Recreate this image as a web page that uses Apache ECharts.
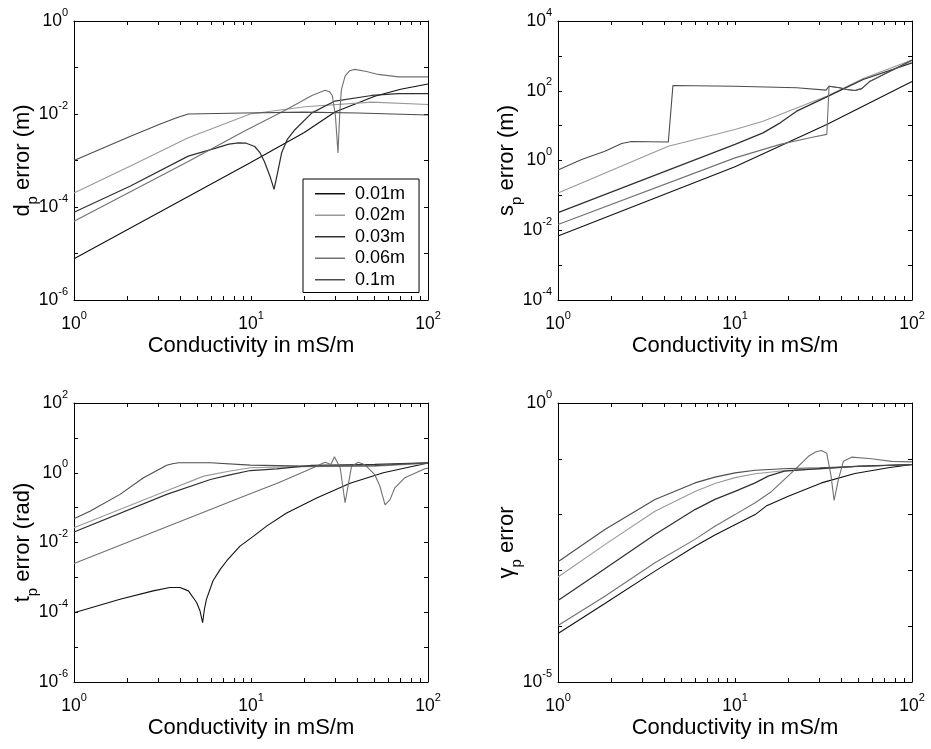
<!DOCTYPE html>
<html><head><meta charset="utf-8">
<script src="https://cdn.jsdelivr.net/npm/echarts@6/dist/echarts.min.js"></script>
<style>html,body{margin:0;padding:0;background:#fff;} #c{width:931px;height:749px;}</style>
</head><body><div id="c"></div>
<script>
// ---------- categories / ticks ----------
const seriesNames = ['0.01m', '0.02m', '0.03m', '0.06m', '0.1m'];
const xTickValues = [1,2,3,4,5,6,7,8,9,10,20,30,40,50,60,70,80,90,100];
const xLabelValues = [1, 10, 100];
const yTicksD = [1e-6,1e-5,1e-4,1e-3,1e-2,1e-1,1];
const yLabelsD = [1e-6,1e-4,1e-2,1];
const yTicksS = [1e-4,1e-3,1e-2,1e-1,1,1e1,1e2,1e3,1e4];
const yLabelsS = [1e-4,1e-2,1,1e2,1e4];
const yTicksT = [1e-6,1e-5,1e-4,1e-3,1e-2,1e-1,1,1e1,1e2];
const yLabelsT = [1e-6,1e-4,1e-2,1,1e2];
const yTicksG = [1e-5,1e-4,1e-3,1e-2,1e-1,1];
const yLabelsG = [1e-5,1];

// ---------- d_p error (m) ----------
const d_001 = [[1,7.7e-6],[3,7.5e-5],[9.9,8.9e-4],[20,4e-3],[29.8,1.1e-2],[50,2.4e-2],[70,3.4e-2],[100,4.4e-2]];
const d_002 = [[1,2e-4],[2.07,7.5e-4],[4.42,3.1e-3],[9.9,1e-2],[20.2,1.43e-2],[48,1.8e-2],[100,1.6e-2]];
const d_003 = [[1,7.7e-5],[2.07,2.8e-4],[4.42,1.24e-3],[6.4,1.87e-3],[7.5,2.25e-3],[8.5,2.4e-3],[9.4,2.35e-3],[10.5,2e-3],[11.2,1.5e-3],[11.9,9.5e-4],[12.8,4.6e-4],[13.5,2.4e-4],[14,4.6e-4],[14.9,1.46e-3],[16,2.8e-3],[17.7,4.6e-3],[22.1,1.06e-2],[29.8,1.9e-2],[48,2.5e-2],[68,2.75e-2],[100,2.75e-2]];
const d_006 = [[1,4.95e-5],[2.07,2.1e-4],[4.42,9.5e-4],[9.2,4.3e-3],[15.6,1.2e-2],[22.1,2.5e-2],[26.2,3.25e-2],[27.8,3e-2],[28.8,2.5e-2],[30,9e-3],[31,1.46e-3],[31.8,1.2e-2],[32.4,3.3e-2],[34,6.5e-2],[36,8.5e-2],[38.6,9.1e-2],[45,8.2e-2],[52.2,7.1e-2],[68,6.3e-2],[100,6.3e-2]];
const d_010 = [[1,1e-3],[2.07,3.3e-3],[3,5.9e-3],[3.8,8.3e-3],[4.42,1e-2],[9.2,1.05e-2],[20,1.1e-2],[40,1.05e-2],[100,9.5e-3]];

// ---------- s_p error (m) ----------
const s_001 = [[1,0.0068],[10,0.66],[33,10.8],[100,183]];
const s_002 = [[1,0.117],[4.2,2.57],[10,7.7],[14.4,13.4],[26.5,45],[33,70],[53,225],[100,760]];
const s_003 = [[1,0.032],[10,2.9],[14.4,6.2],[18,12],[22.3,26],[33,67],[53,210],[100,630]];
const s_006 = [[1,0.0146],[10,1.19],[18,2.9],[26.5,4.5],[33,5.6],[34,135],[39,122],[42.7,109],[47.6,102],[52,115],[58,188],[100,750]];
const s_010 = [[1,0.53],[1.36,1.07],[1.84,1.85],[2.29,3.07],[2.6,3.5],[4.2,3.4],[4.46,141],[10,135],[22.3,122],[32.7,104],[34,135],[39,122],[42.7,109],[47.6,102],[52,115],[58,188],[100,750]];

// ---------- t_p error (rad) ----------
const t_001 = [[1,9.7e-5],[1.82,2.35e-4],[2.8,4.1e-4],[3.48,5.1e-4],[3.97,5.1e-4],[4.43,4.1e-4],[4.93,1.9e-4],[5.15,1.1e-4],[5.33,5e-5],[5.45,1.2e-4],[5.6,2.35e-4],[6.1,8e-4],[6.7,1.7e-3],[7.3,3e-3],[8.67,7.9e-3],[10.3,0.015],[12.3,0.03],[15.9,0.07],[23.5,0.19],[36.3,0.5],[55.9,1.0],[100,1.9]];
const t_002 = [[1,0.0265],[3.34,0.305],[5.4,0.8],[7.5,1.11],[9.9,1.39],[14,1.45],[20,1.5],[50,1.55],[100,1.85]];
const t_003 = [[1,0.02],[3.34,0.24],[5.9,0.64],[7.5,0.85],[9.9,1.16],[14,1.3],[22,1.62],[50,1.75],[100,1.93]];
const t_006 = [[1,0.0025],[9.9,0.25],[14.3,0.52],[20.2,1.11],[26.2,2.0],[28.3,1.73],[29.6,2.87],[31.9,1.39],[34,0.138],[37,1.55],[40.4,2.0],[44,1.7],[50,0.89],[53.5,0.41],[57.2,0.12],[61,0.17],[65,0.37],[74,0.72],[96,1.3],[100,1.35]];
const t_010 = [[1,0.048],[1.23,0.079],[1.82,0.24],[2.47,0.72],[3.34,1.65],[3.6,1.82],[3.9,1.93],[5.9,1.93],[9.9,1.65],[20,1.55],[50,1.6],[100,1.93]];

// ---------- gamma_p error ----------
const g_001 = [[1,7.4e-5],[1.84,2.55e-4],[3.53,9.7e-4],[5.94,2.7e-3],[7.7,4.3e-3],[10,6.6e-3],[13,0.01],[15,0.0142],[20,0.0214],[30.8,0.037],[47.6,0.0545],[73.5,0.069],[100,0.079]];
const g_002 = [[1,7.6e-4],[1.84,2.9e-3],[3.53,0.0115],[5.94,0.026],[7.7,0.036],[10,0.046],[13,0.054],[20,0.0625],[30,0.066],[50,0.073],[100,0.079]];
const g_003 = [[1,2.9e-4],[1.84,1.07e-3],[3.53,4.4e-3],[5.94,0.0123],[7.7,0.0187],[10,0.026],[13,0.037],[15.4,0.049],[19,0.06],[24.8,0.064],[50,0.074],[100,0.079]];
const g_006 = [[1,1.03e-4],[1.84,3.45e-4],[3.53,1.37e-3],[5.94,3.6e-3],[7.7,6.2e-3],[10,0.01],[13,0.0163],[16.1,0.026],[21.8,0.064],[26,0.111],[28.5,0.132],[30.8,0.141],[33,0.125],[34.9,0.049],[36.3,0.0179],[38.4,0.0426],[41,0.0906],[45.6,0.107],[59,0.1],[76.7,0.09],[100,0.088]];
const g_010 = [[1,1.43e-3],[1.84,5.4e-3],[3.53,0.0187],[5.94,0.037],[7.7,0.047],[10,0.056],[13,0.0625],[20,0.067],[30,0.069],[70,0.076],[100,0.079]];

// ---------- styles ----------
const FONT = '"Liberation Sans", Arial, Helvetica, sans-serif';
const lineColors = ['#111111', '#999999', '#303030', '#707070', '#4c4c4c'];
const lineWidths = [1.1, 1.1, 1.25, 1.1, 1.1];

const panels = [
  { data: [d_001, d_002, d_003, d_006, d_010], min: 1e-6, max: 1, ticks: yTicksD, labels: yLabelsD,
    name: '{m|d}{s|p}{m| error (m)}', left: 74, top: 21 },
  { data: [s_001, s_002, s_003, s_006, s_010], min: 1e-4, max: 1e4, ticks: yTicksS, labels: yLabelsS,
    name: '{m|s}{s|p}{m| error (m)}', left: 558, top: 21 },
  { data: [t_001, t_002, t_003, t_006, t_010], min: 1e-6, max: 1e2, ticks: yTicksT, labels: yLabelsT,
    name: '{m|t}{s|p}{m| error (rad)}', left: 74, top: 403 },
  { data: [g_001, g_002, g_003, g_006, g_010], min: 1e-5, max: 1, ticks: yTicksG, labels: yLabelsG,
    name: '{m|\u03b3}{s|p}{m| error}', left: 558, top: 403 }
];

function powLabel(v) {
  const e = Math.round(Math.log10(v));
  return '{b|10}{s|' + e + '}';
}
const labelRich = {
  b: { fontSize: 17.5, lineHeight: 28, fontFamily: FONT, color: '#000' },
  s: { fontSize: 11, lineHeight: 14, verticalAlign: 'top', fontFamily: FONT, color: '#000' }
};
const nameRich = {
  m: { fontSize: 22, lineHeight: 24, verticalAlign: 'top', fontFamily: FONT, color: '#000' },
  s: { fontSize: 15, lineHeight: 28, verticalAlign: 'bottom', fontFamily: FONT, color: '#000' }
};
const axisLineStyle = { show: true, onZero: false, lineStyle: { color: '#000', width: 1 } };

const grids = [], xAxes = [], yAxes = [], series = [];
panels.forEach((p, i) => {
  grids.push({ left: p.left, top: p.top, width: 354, height: 279, containLabel: false });
  xAxes.push({
    type: 'log', logBase: 10, gridIndex: i, min: 1, max: 100, position: 'bottom',
    axisLine: axisLineStyle,
    axisTick: { show: true, inside: true, length: 4, customValues: xTickValues, lineStyle: { color: '#000' } },
    axisLabel: { show: true, customValues: xLabelValues, formatter: powLabel, rich: labelRich, margin: 10, color: '#000' },
    splitLine: { show: false }, minorTick: { show: false },
    name: 'Conductivity in mS/m', nameLocation: 'middle', nameGap: 35,
    nameTextStyle: { fontSize: 22, fontFamily: FONT, color: '#000' }
  });
  xAxes.push({
    type: 'log', logBase: 10, gridIndex: i, min: 1, max: 100, position: 'top',
    axisLine: axisLineStyle,
    axisTick: { show: true, inside: true, length: 4, customValues: xTickValues, lineStyle: { color: '#000' } },
    axisLabel: { show: false }, splitLine: { show: false }
  });
  yAxes.push({
    type: 'log', logBase: 10, gridIndex: i, min: p.min, max: p.max, position: 'left',
    axisLine: axisLineStyle,
    axisTick: { show: true, inside: true, length: 4, customValues: p.ticks, lineStyle: { color: '#000' } },
    axisLabel: { show: true, customValues: p.labels, formatter: powLabel, rich: labelRich, margin: 6, color: '#000' },
    splitLine: { show: false },
    name: p.name, nameLocation: 'middle', nameGap: 34, nameRotate: 90, nameMoveOverlap: false,
    nameTextStyle: { rich: nameRich, fontSize: 22, fontFamily: FONT, color: '#000' }
  });
  yAxes.push({
    type: 'log', logBase: 10, gridIndex: i, min: p.min, max: p.max, position: 'right',
    axisLine: axisLineStyle,
    axisTick: { show: true, inside: true, length: 4, customValues: p.ticks, lineStyle: { color: '#000' } },
    axisLabel: { show: false }, splitLine: { show: false }
  });
  p.data.forEach((d, k) => {
    series.push({
      type: 'line', name: seriesNames[k], xAxisIndex: 2 * i, yAxisIndex: 2 * i,
      data: d, symbol: 'none', showSymbol: false, smooth: false, clip: true,
      lineStyle: { color: lineColors[k], width: lineWidths[k] },
      itemStyle: { color: lineColors[k] },
      emphasis: { disabled: true }
    });
  });
});

const chart = echarts.init(document.getElementById('c'), null, { renderer: 'canvas' });
chart.setOption({
  animation: false,
  backgroundColor: '#fff',
  grid: grids, xAxis: xAxes, yAxis: yAxes, series: series,
  legend: {
    show: true, left: 303, top: 179, orient: 'vertical',
    data: seriesNames.map((n, k) => ({ name: n, icon: 'rect', itemStyle: { color: lineColors[k] } })),
    itemWidth: 30, itemHeight: 1.5, itemGap: 0, padding: [4, 14, 2, 12],
    borderColor: '#000', borderWidth: 1, backgroundColor: '#fff', borderRadius: 0,
    selectedMode: false,
    textStyle: { fontSize: 18, lineHeight: 21.5, fontFamily: FONT, color: '#000', padding: [0, 0, 0, 5] }
  }
});
</script></body></html>
